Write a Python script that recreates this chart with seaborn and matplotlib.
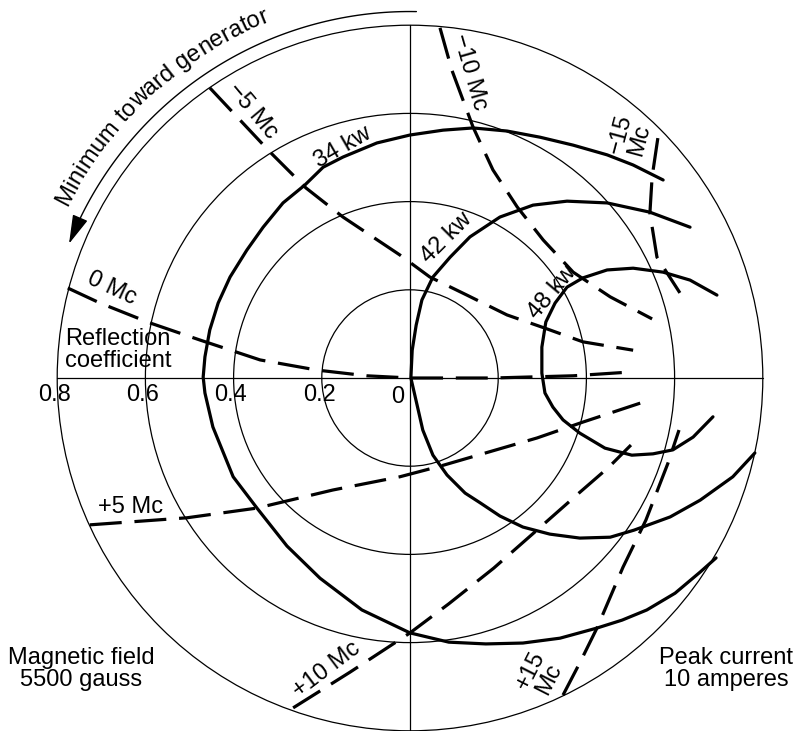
import numpy as np
import matplotlib
matplotlib.use("Agg")
import matplotlib.pyplot as plt
from matplotlib.patches import Circle
from matplotlib.font_manager import FontProperties
import seaborn as sns

# reflection coefficient circles + their labels
RADII = [0.2, 0.4, 0.6, 0.8]
TICK_LABELS = ["0.2", "0.4", "0.6", "0.8"]

# power contours (x, y in the reflection-coefficient plane)
KW34_X = [0.574, 0.506, 0.447, 0.370, 0.295, 0.220, 0.143, 0.075, 0.000, -0.075,
          -0.152, -0.197, -0.238, -0.288, -0.333, -0.370, -0.408, -0.435, -0.454, -0.465,
          -0.469, -0.465, -0.447, -0.401, -0.347, -0.279, -0.204, -0.109, 0.000, 0.088,
          0.172, 0.256, 0.340, 0.424, 0.481, 0.537, 0.601, 0.658, 0.694]
KW34_Y = [0.449, 0.483, 0.506, 0.528, 0.546, 0.560, 0.567, 0.562, 0.551, 0.533,
          0.501, 0.478, 0.438, 0.397, 0.342, 0.290, 0.229, 0.170, 0.109, 0.048,
          0.002, -0.034, -0.111, -0.224, -0.295, -0.381, -0.454, -0.526, -0.578, -0.599,
          -0.603, -0.601, -0.590, -0.567, -0.549, -0.526, -0.488, -0.440, -0.408]

KW42_X = [0.635, 0.544, 0.447, 0.356, 0.279, 0.204, 0.136, 0.091, 0.052, 0.027,
          0.014, 0.005, 0.002, 0.016, 0.029, 0.052, 0.084, 0.125, 0.159, 0.204,
          0.256, 0.317, 0.385, 0.454, 0.508, 0.590, 0.658, 0.732, 0.782]
KW42_Y = [0.342, 0.376, 0.397, 0.401, 0.392, 0.365, 0.320, 0.274, 0.229, 0.177,
          0.120, 0.063, 0.000, -0.061, -0.118, -0.175, -0.220, -0.261, -0.283, -0.313,
          -0.338, -0.354, -0.363, -0.361, -0.345, -0.315, -0.277, -0.224, -0.170]

KW48_X = [0.696, 0.635, 0.574, 0.506, 0.447, 0.392, 0.356, 0.329, 0.308, 0.299,
          0.299, 0.306, 0.324, 0.347, 0.385, 0.442, 0.503, 0.551, 0.596, 0.642, 0.687]
KW48_Y = [0.188, 0.222, 0.240, 0.249, 0.245, 0.227, 0.206, 0.170, 0.127, 0.070,
          0.011, -0.034, -0.066, -0.095, -0.125, -0.159, -0.175, -0.172, -0.163, -0.134, -0.088]

# frequency contours
MC_M5_X = [-0.454, -0.317, -0.236, -0.152, -0.023, 0.045, 0.129, 0.220, 0.306, 0.392, 0.506]
MC_M5_Y = [0.658, 0.512, 0.431, 0.365, 0.279, 0.229, 0.188, 0.143, 0.113, 0.082, 0.063]

MC_M10_X = [0.068, 0.095, 0.143, 0.188, 0.243, 0.302, 0.370, 0.454, 0.549]
MC_M10_Y = [0.794, 0.698, 0.569, 0.472, 0.388, 0.313, 0.240, 0.184, 0.134]

MC_M15_X = [0.562, 0.549, 0.544, 0.560, 0.583, 0.612]
MC_M15_Y = [0.544, 0.456, 0.374, 0.274, 0.238, 0.193]

MC_0_X = [-0.776, -0.703, -0.590, -0.476, -0.340, -0.211, -0.098, 0.000, 0.188, 0.370, 0.506]
MC_0_Y = [0.204, 0.170, 0.125, 0.086, 0.041, 0.018, 0.005, 0.000, 0.000, 0.005, 0.014]

MC_P5_X = [-0.726, -0.506, -0.347, -0.175, -0.023, 0.068, 0.288, 0.392, 0.522]
MC_P5_Y = [-0.333, -0.317, -0.295, -0.254, -0.224, -0.200, -0.136, -0.100, -0.057]

MC_P10_X = [-0.265, -0.136, 0.000, 0.088, 0.190, 0.281, 0.383, 0.451, 0.501]
MC_P10_Y = [-0.748, -0.667, -0.578, -0.512, -0.431, -0.351, -0.261, -0.202, -0.152]

MC_P15_X = [0.347, 0.385, 0.424, 0.483, 0.535, 0.585, 0.610]
MC_P15_Y = [-0.719, -0.646, -0.567, -0.429, -0.322, -0.193, -0.118]

# chart is 441 px per unit of reflection coefficient, centre at (410, 378) px
SCALE = 441.0
FS = 17
THICK = 2.3
THIN = 0.9
DASH = (0, (10, 4))

sns.set_style("white")
plt.rcParams["font.family"] = ["Liberation Sans", "DejaVu Sans"]
plt.rcParams["text.color"] = "black"

fig = plt.figure(figsize=(8.01, 7.31), dpi=100)
ax = fig.add_axes([0, 0, 1, 1])
ax.set_xlim(-410 / SCALE, 391 / SCALE)
ax.set_ylim(-353 / SCALE, 378 / SCALE)
ax.axis("off")

# grid circles and axes
for r in RADII:
    ax.add_patch(Circle((0, 0), r, fill=False, lw=THIN, color="black"))
ax.plot([-0.8, 0.8], [0, 0], lw=THIN, color="black")
ax.plot([0, 0], [-0.8, 0.8], lw=THIN, color="black")

for r, lab in zip(RADII, TICK_LABELS):
    ax.text(-r - 0.006, -0.039, lab, ha="center", va="center", fontsize=FS)
ax.text(-0.027, -0.043, "0", ha="center", va="center", fontsize=FS)

# power contours (solid)
for xs, ys in [(KW34_X, KW34_Y), (KW42_X, KW42_Y), (KW48_X, KW48_Y)]:
    sns.lineplot(x=xs, y=ys, sort=False, estimator=None, color="black", lw=THICK,
                 solid_joinstyle="round", ax=ax)

# frequency contours (dashed)
for xs, ys in [(MC_M5_X, MC_M5_Y), (MC_M10_X, MC_M10_Y), (MC_M15_X, MC_M15_Y),
               (MC_0_X, MC_0_Y), (MC_P5_X, MC_P5_Y), (MC_P10_X, MC_P10_Y),
               (MC_P15_X, MC_P15_Y)]:
    sns.lineplot(x=xs, y=ys, sort=False, estimator=None, color="black", lw=THICK,
                 linestyle=DASH, ax=ax)

# contour labels
labels = [
    ("−5 Mc", -0.358, 0.606, -50),
    ("−10 Mc", 0.136, 0.694, -74),
    ("−15\nMc", 0.499, 0.546, 75),
    ("0 Mc", -0.676, 0.202, -25),
    ("34 kw", -0.152, 0.522, 30),
    ("42 kw", 0.084, 0.317, 45),
    ("48 kw", 0.322, 0.195, 50),
    ("+5 Mc", -0.633, -0.293, 0),
    ("+10 Mc", -0.188, -0.662, 37),
    ("+15\nMc", 0.295, -0.673, 63),
]
for txt, x, y, rot in labels:
    ax.text(x, y, txt, rotation=rot, rotation_mode="anchor", ha="center", va="center",
            fontsize=FS, linespacing=0.9)

ax.text(-0.782, 0.063, "Reflection\ncoefficient", ha="left", va="center", fontsize=FS,
        linespacing=1.0)
ax.text(-0.746, -0.660, "Magnetic field\n5500 gauss", ha="center", va="center",
        fontsize=FS, linespacing=1.05)
ax.text(0.717, -0.660, "Peak current\n10 amperes", ha="center", va="center",
        fontsize=FS, linespacing=1.05)

# arrow arc outside the chart
ARROW_R = 0.831
th = np.deg2rad(np.linspace(89, 155, 80))
ax.plot(ARROW_R * np.cos(th), ARROW_R * np.sin(th), lw=1.0, color="black")
tip = np.deg2rad(158.5)
ax.annotate("", xy=(ARROW_R * np.cos(tip), ARROW_R * np.sin(tip)),
            xytext=(ARROW_R * np.cos(th[-1]), ARROW_R * np.sin(th[-1])),
            arrowprops=dict(arrowstyle="-|>,head_length=0.9,head_width=0.25",
                            color="black", lw=1.0, shrinkA=0, shrinkB=0,
                            mutation_scale=20))

# curved text along the arc
ARC_TEXT = "Minimum toward generator"
TEXT_R = 0.869
prop = FontProperties(family=["Liberation Sans"], size=FS)
renderer = fig.canvas.get_renderer()


def tw(s):
    return renderer.get_text_width_height_descent(s, prop, ismath=False)[0]


total = tw(ARC_TEXT)
mid = np.deg2rad(132.5)
r_px = TEXT_R * SCALE
for i, ch in enumerate(ARC_TEXT):
    if ch == " ":
        continue
    c = tw(ARC_TEXT[:i + 1]) - tw(ch) / 2
    a = mid + (total / 2 - c) / r_px
    ax.text(TEXT_R * np.cos(a), TEXT_R * np.sin(a), ch, fontproperties=prop,
            rotation=np.rad2deg(a) - 90, rotation_mode="anchor",
            ha="center", va="baseline")

fig.savefig("out.png", dpi=100)
